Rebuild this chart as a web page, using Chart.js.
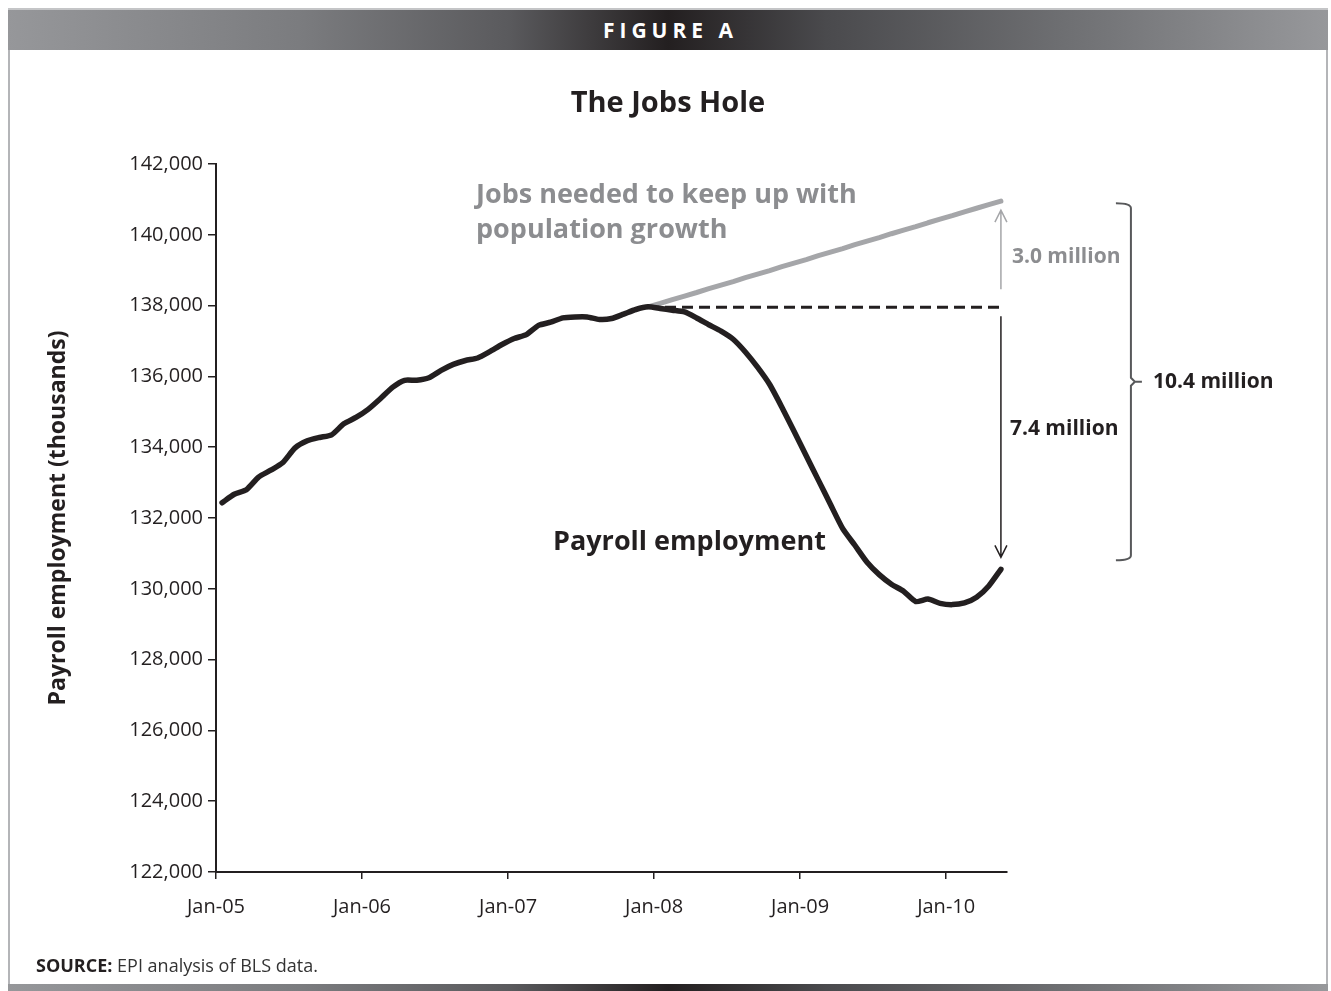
<!DOCTYPE html>
<html>
<head>
<meta charset="utf-8">
<title>The Jobs Hole</title>
<script src="https://cdn.jsdelivr.net/npm/chart.js@4.4.1/dist/chart.umd.min.js"></script>
<style>
  html, body { margin: 0; padding: 0; background: #fff; }
  body { width: 1331px; height: 991px; position: relative; overflow: hidden; font-family: 'Open Sans', sans-serif; }
  .bar { position: absolute; left: 8px; width: 1320px;
    background: linear-gradient(to right, #96979a 0%, #7b7c7f 22%, #5a5a5d 38%, #231f20 50%, #4a4a4d 62%, #6e6f72 80%, #97989b 100%); }
  #head { top: 8px; height: 42px; border-top: 2px solid #c4c5c7; box-sizing: border-box; }
  #foot { top: 984px; height: 7px; }
  #fig { position: absolute; left: 8px; top: 8px; width: 1320px; height: 42px; line-height: 44px; text-align: center;
    color: #fff; font-weight: 700; font-size: 21px; letter-spacing: 5px; text-indent: 5px; }
  #panel { position: absolute; left: 8px; top: 50px; width: 1320px; height: 934px; box-sizing: border-box;
    border-left: 2px solid #b4b5b8; border-right: 2px solid #b4b5b8; }
  #wrap { position: absolute; left: 0; top: 0; width: 1331px; height: 991px; }
</style>
</head>
<body>
<div id="panel"></div>
<div class="bar" id="head"></div>
<div id="fig">FIGURE A</div>
<div class="bar" id="foot"></div>
<div id="wrap"><canvas id="myChart"></canvas></div>
<script>
'use strict';
// monthly payroll employment, Jan 2005 - May 2010 (thousands)
let payroll = [
  132430, 132670, 132800, 133155, 133350, 133570, 133980, 134180, 134275, 134350, 134660, 134840,
  135070, 135370, 135690, 135890, 135890, 135960, 136170, 136340, 136450, 136520, 136700, 136900,
  137070, 137180, 137440, 137530, 137655, 137680, 137680, 137610, 137635, 137760, 137890, 137965,
  137920, 137870, 137820, 137650, 137460, 137280, 137050, 136690, 136260, 135770, 135130, 134450,
  133760, 133070, 132380, 131700, 131230, 130750, 130400, 130130, 129930, 129640, 129710, 129590,
  129553, 129600, 129760, 130080, 130550
];
// jobs needed to keep up with population growth, from Dec 2007
let neededStart = 35;
let needed = [
  137965, 138060, 138170, 138270, 138370, 138480, 138580, 138680, 138790, 138890,
  138990, 139100, 139200, 139300, 139410, 139510, 139610, 139720, 139820, 139920,
  140030, 140130, 140230, 140340, 140440, 140540, 140650, 140750, 140850, 140950
];
let peakLevel = 137950;
let yearTicks = ['Jan-05', 'Jan-06', 'Jan-07', 'Jan-08', 'Jan-09', 'Jan-10'];
let yMin = 122000;
let yMax = 142000;
let yStep = 2000;

let dark = '#231f20';
let gray = '#a5a6a9';
let grayText = '#8c8d90';
let font = "'Open Sans', sans-serif";

function arrow(ctx, x, y0, y1, color) {
  let dir = y1 < y0 ? 1 : -1;
  ctx.save();
  ctx.strokeStyle = color;
  ctx.lineWidth = 1.5;
  ctx.beginPath();
  ctx.moveTo(x, y0);
  ctx.lineTo(x, y1);
  ctx.moveTo(x - 6, y1 + dir * 12);
  ctx.lineTo(x, y1);
  ctx.lineTo(x + 6, y1 + dir * 12);
  ctx.stroke();
  ctx.restore();
}

function text(ctx, str, x, y, size, weight, color, align) {
  ctx.font = weight + ' ' + size + 'px ' + font;
  ctx.fillStyle = color;
  ctx.textAlign = align || 'left';
  ctx.textBaseline = 'alphabetic';
  ctx.fillText(str, x, y);
}

let annotations = {
  id: 'annotations',
  afterDatasetsDraw(chart) {
    let ctx = chart.ctx;
    let x = chart.scales.x;
    let y = chart.scales.y;
    let last = payroll.length - 1;
    let xe = x.getPixelForValue(last + 0.5);
    let yNeed = y.getPixelForValue(needed[needed.length - 1]);
    let yPeak = y.getPixelForValue(peakLevel);
    let yLow = y.getPixelForValue(payroll[last]);

    arrow(ctx, xe, yPeak - 18, yNeed + 9, gray);
    arrow(ctx, xe, yPeak + 9, yLow - 12, dark);

    // bracket round the whole gap
    let bx0 = xe + 115;
    let bx1 = xe + 130;
    let top = yNeed + 2;
    let bot = yLow - 9;
    let mid = (top + bot) / 2;
    ctx.save();
    ctx.strokeStyle = '#58595b';
    ctx.lineWidth = 2;
    ctx.beginPath();
    ctx.moveTo(bx0, top);
    ctx.quadraticCurveTo(bx1, top, bx1, top + 5);
    ctx.lineTo(bx1, mid - 4);
    ctx.lineTo(bx1 + 4, mid);
    ctx.lineTo(bx1, mid + 4);
    ctx.lineTo(bx1, bot - 5);
    ctx.quadraticCurveTo(bx1, bot, bx0, bot);
    ctx.moveTo(bx1 + 3, mid);
    ctx.lineTo(bx1 + 11, mid);
    ctx.stroke();
    ctx.restore();

    text(ctx, '3.0 million', xe + 11, 263, 21, 'bold', grayText);
    text(ctx, '7.4 million', xe + 9, 435, 21, 'bold', dark);
    text(ctx, '10.4 million', bx1 + 22, 388, 21, 'bold', dark);

    text(ctx, 'Jobs needed to keep up with', 476, 203, 27, 'bold', grayText);
    text(ctx, 'population growth', 476, 238, 27, 'bold', grayText);
    text(ctx, 'Payroll employment', 553, 550, 27, 'bold', dark);

    text(ctx, 'The Jobs Hole', 668, 112, 29, 'bold', dark, 'center');

    text(ctx, 'SOURCE:', 36, 972, 18, 'bold', dark);
    ctx.font = 'bold 18px ' + font;
    let w = ctx.measureText('SOURCE: ').width;
    text(ctx, 'EPI analysis of BLS data.', 36 + w, 972, 18, 'normal', '#333');
  }
};

let ctx = document.getElementById('myChart').getContext('2d');
let myChart = new Chart(ctx, {
  type: 'line',
  data: {
    datasets: [{
      label: 'Payroll employment',
      data: payroll.map((v, i) => ({ x: i + 0.5, y: v })),
      borderColor: dark,
      borderWidth: 5.5,
      tension: 0.2,
      order: 0
    }, {
      label: 'Pre-recession peak',
      data: [{ x: neededStart + 0.5, y: peakLevel }, { x: payroll.length - 0.5, y: peakLevel }],
      borderColor: dark,
      borderWidth: 3,
      borderDash: [11, 6],
      borderCapStyle: 'butt',
      order: 1
    }, {
      label: 'Jobs needed to keep up with population growth',
      data: needed.map((v, k) => ({ x: neededStart + k + 0.5, y: v })),
      borderColor: gray,
      borderWidth: 5,
      order: 2
    }]
  },
  options: {
    responsive: true,
    maintainAspectRatio: false,
    animation: false,
    layout: { padding: { top: 164, right: 324, bottom: 59, left: 0 } },
    elements: {
      point: { radius: 0 },
      line: { borderCapStyle: 'round', borderJoinStyle: 'round', fill: false }
    },
    plugins: {
      legend: { display: false },
      tooltip: { enabled: false }
    },
    scales: {
      x: {
        type: 'linear',
        min: 0,
        max: payroll.length,
        afterFit: (s) => { s.height = 60; },
        border: { display: true, color: dark, width: 2 },
        grid: { drawOnChartArea: false, drawTicks: true, tickLength: 7, color: dark, lineWidth: 1.5 },
        ticks: {
          stepSize: 12,
          includeBounds: false,
          autoSkip: false,
          maxRotation: 0,
          padding: 16,
          color: dark,
          font: { family: font, size: 20 },
          callback: (v) => yearTicks[v / 12]
        }
      },
      y: {
        min: yMin,
        max: yMax,
        afterFit: (s) => { s.width = 216; },
        border: { display: true, color: dark, width: 2 },
        grid: { drawOnChartArea: false, drawTicks: true, tickLength: 8, color: dark, lineWidth: 1.5 },
        ticks: {
          stepSize: yStep,
          padding: 5,
          color: dark,
          font: { family: font, size: 20 }
        },
        title: {
          display: true,
          text: 'Payroll employment (thousands)',
          color: dark,
          font: { family: font, size: 23, weight: 'bold' },
          padding: { top: 45 }
        }
      }
    }
  },
  plugins: [annotations]
});
</script>
</body>
</html>
